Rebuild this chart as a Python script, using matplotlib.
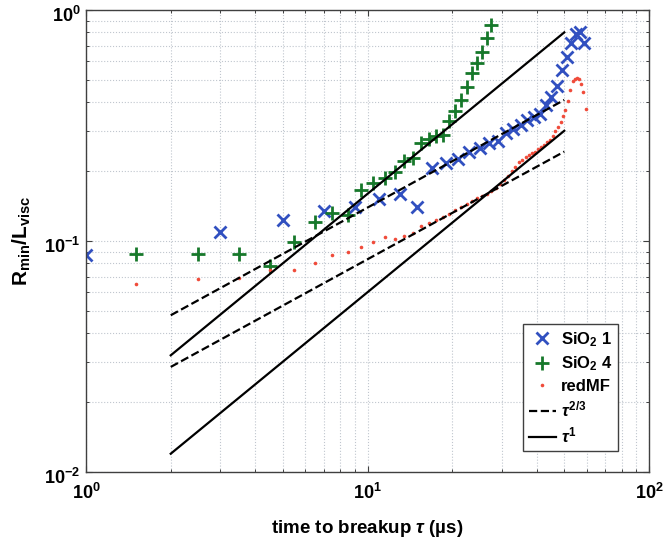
import numpy as np
import matplotlib
matplotlib.use('Agg')
import matplotlib.pyplot as plt
import matplotlib.transforms as mtransforms
from matplotlib.ticker import LogLocator, NullFormatter

plt.rcParams['font.family'] = ['Liberation Sans', 'DejaVu Sans']
plt.rcParams['font.weight'] = 'bold'
plt.rcParams['mathtext.fontset'] = 'custom'
plt.rcParams['mathtext.rm'] = 'Liberation Sans:bold'
plt.rcParams['mathtext.bf'] = 'Liberation Sans:bold'
plt.rcParams['mathtext.it'] = 'Liberation Sans:italic'

# SiO2 1 : time to breakup (us) and Rmin/Lvisc
tau_sio2_1 = [1, 3, 5, 7, 9, 11, 13, 15, 17, 19, 21, 23, 25, 27, 29, 31, 33, 35,
              37, 39, 41, 43, 45, 47, 49, 51, 53, 55, 57, 59]
r_sio2_1 = [0.087, 0.109, 0.123, 0.135, 0.141, 0.152, 0.159, 0.141, 0.207, 0.218,
            0.226, 0.244, 0.253, 0.265, 0.270, 0.292, 0.305, 0.318, 0.334, 0.343,
            0.356, 0.388, 0.420, 0.469, 0.550, 0.624, 0.718, 0.787, 0.800, 0.722]

# SiO2 4
tau_sio2_4 = [1.5, 2.5, 3.5, 4.5, 5.5, 6.5, 7.5, 8.5, 9.5, 10.5, 11.5, 12.5, 13.5,
              14.5, 15.5, 16.5, 17.5, 18.5, 19.5, 20.5, 21.5, 22.5, 23.5, 24.5,
              25.5, 26.5, 27.5]
r_sio2_4 = [0.0875, 0.0875, 0.0875, 0.078, 0.0993, 0.1205, 0.1318, 0.1296, 0.1663,
            0.1778, 0.1868, 0.1995, 0.2226, 0.228, 0.265, 0.2756, 0.2848, 0.2877,
            0.332, 0.366, 0.408, 0.463, 0.532, 0.588, 0.660, 0.754, 0.861]

# redMF
tau_red = [1.5, 2.5, 3.5, 4.5, 5.5, 6.5, 7.5, 8.5, 9.5, 10.5, 11.5, 12.5, 13.5,
           14.5, 15.5, 16.5, 17.5, 18.5, 19.5, 20.5, 21.5, 22.5, 23.5, 24.5, 25.5,
           26.5, 27.5, 28.5, 29.5, 30.5, 31.5, 32.5, 33.5, 34.5, 35.5, 36.5, 37.5,
           38.5, 39.5, 40.5, 41.5, 42.5, 43.5, 44.5, 45.5, 46.5, 47.5, 48.5, 49.5,
           50.5, 51.5, 52.5, 53.5, 54.5, 55.5, 56.5, 57.5, 58.5, 59.5]
r_red = [0.0653, 0.0687, 0.069, 0.0749, 0.0748, 0.0806, 0.0873, 0.0899, 0.0942,
         0.099, 0.1037, 0.1023, 0.1054, 0.1087, 0.1165, 0.1193, 0.1233, 0.1274,
         0.1313, 0.1362, 0.1408, 0.1442, 0.1495, 0.153, 0.157, 0.160, 0.165,
         0.170, 0.176, 0.184, 0.192, 0.201, 0.210, 0.219, 0.225, 0.230, 0.235,
         0.240, 0.244, 0.249, 0.255, 0.261, 0.268, 0.274, 0.285, 0.300, 0.312,
         0.326, 0.348, 0.369, 0.405, 0.450, 0.493, 0.505, 0.510, 0.503, 0.478,
         0.440, 0.373]

# power law guide lines (end points)
tau_guide = [2, 50]
r_pow23_hi = [0.0477, 0.408]
r_pow23_lo = [0.0285, 0.2437]
r_pow1_hi = [0.032, 0.800]
r_pow1_lo = [0.012, 0.300]

fig = plt.figure(figsize=(6.64, 5.42), dpi=100)
ax = fig.add_axes([86/664, 70/542, 563/664, 462/542])

ax.plot(tau_sio2_1, r_sio2_1, 'x', color='#3150c0', ms=8, mew=2, label=r'SiO$_2$ 1')
ax.plot(tau_sio2_4, r_sio2_4, '+', color='#16782a', ms=10, mew=2, label=r'SiO$_2$ 4')
ax.plot(tau_red, r_red, 'o', color='#f04b3a', ms=2.6, mew=0, label='redMF')
ax.plot(tau_guide, r_pow23_hi, '--', color='k', lw=1.6, label=r'$\tau^{2/3}$')
ax.plot(tau_guide, r_pow23_lo, '--', color='k', lw=1.6)
ax.plot(tau_guide, r_pow1_hi, '-', color='k', lw=1.6, label=r'$\tau^{1}$')
ax.plot(tau_guide, r_pow1_lo, '-', color='k', lw=1.6)

ax.set_xscale('log')
ax.set_yscale('log')
ax.set_xlim(1, 100)
ax.set_ylim(0.01, 1)
ax.xaxis.set_major_locator(LogLocator(base=10, numticks=10))
ax.yaxis.set_major_locator(LogLocator(base=10, numticks=10))
ax.xaxis.set_minor_locator(LogLocator(base=10, subs=np.arange(2, 10), numticks=20))
ax.yaxis.set_minor_locator(LogLocator(base=10, subs=np.arange(2, 10), numticks=20))
ax.xaxis.set_minor_formatter(NullFormatter())
ax.yaxis.set_minor_formatter(NullFormatter())

ax.grid(True, which='both', linestyle=':', color='#c0c6ce', lw=0.8)
ax.set_axisbelow(True)
ax.tick_params(which='both', direction='in', top=True, right=True, color='#404040')
ax.tick_params(which='major', length=4, width=0.8, labelsize=13)
ax.tick_params(which='minor', length=2.5, width=0.7)
ax.tick_params(axis='x', pad=8)
ax.tick_params(axis='y', pad=4)
for s in ax.spines.values():
    s.set_color('#404040')
    s.set_linewidth(1.0)

# MATLAB style: y tick labels sit a little below their ticks
shift = mtransforms.ScaledTranslation(0, -4/100, fig.dpi_scale_trans)
for lab in ax.get_yticklabels():
    lab.set_transform(lab.get_transform() + shift)

ax.set_xlabel(r'time to breakup $\tau$ (µs)', fontsize=13.5, fontweight='bold')
ax.set_ylabel(r'R$_{\rm min}$/L$_{\rm visc}$', fontsize=15, fontweight='bold')
ax.xaxis.set_label_coords(0.5, -0.1)
ax.yaxis.set_label_coords(-0.094, 0.5)

leg = ax.legend(loc='lower right', bbox_to_anchor=(0.945, 0.045), borderaxespad=0,
                fancybox=False, framealpha=1, edgecolor='#404040',
                prop={'weight': 'bold', 'size': 12}, handlelength=1.6,
                handletextpad=0.3, labelspacing=0.35, borderpad=0.35)
leg.get_frame().set_linewidth(1.0)

fig.savefig('out.png', dpi=100)
